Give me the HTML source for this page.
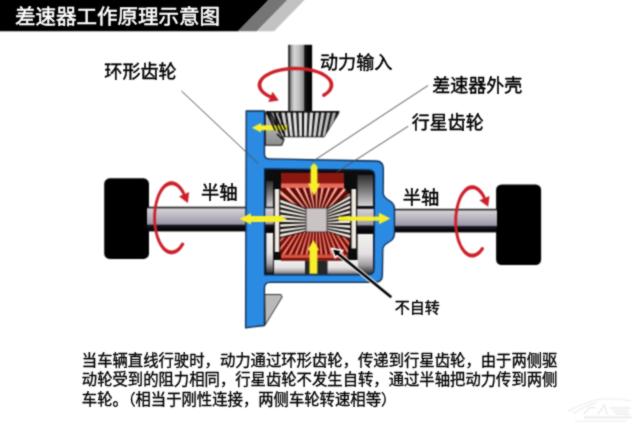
<!DOCTYPE html>
<html lang="zh"><head><meta charset="utf-8"><title>差速器工作原理示意图</title>
<style>
html,body{margin:0;padding:0;background:#fff}
body{width:640px;height:427px;overflow:hidden;position:relative;font-family:"Liberation Sans","Noto Sans CJK SC",sans-serif}
svg{display:block;position:absolute;left:0;top:0}
svg text{font-family:"Liberation Sans","Noto Sans CJK SC",sans-serif}
.t{position:absolute;white-space:nowrap;color:transparent;margin:0;padding:0;z-index:2;pointer-events:none}
</style></head><body>
<svg width="640" height="427" viewBox="0 0 640 427">
<g filter="url(#soft)">
<defs>
<linearGradient id="gShH" x1="0" y1="0" x2="0" y2="1">
<stop offset="0" stop-color="#1a1a1a"/><stop offset=".06" stop-color="#2a2a2a"/><stop offset=".08" stop-color="#d6d2d6"/>
<stop offset=".45" stop-color="#b4b0bc"/><stop offset=".70" stop-color="#9a98a8"/><stop offset=".76" stop-color="#15151d"/><stop offset="1" stop-color="#000"/>
</linearGradient>
<linearGradient id="gShV" x1="0" y1="0" x2="1" y2="0">
<stop offset="0" stop-color="#1c1c1c"/><stop offset=".08" stop-color="#333"/><stop offset=".1" stop-color="#8e8e8e"/>
<stop offset=".25" stop-color="#d6d6d6"/><stop offset=".45" stop-color="#c0c0c0"/><stop offset=".66" stop-color="#8a8a8a"/><stop offset=".69" stop-color="#111"/><stop offset="1" stop-color="#000"/>
</linearGradient>
<linearGradient id="gGreyV" x1="0" y1="0" x2="0" y2="1">
<stop offset="0" stop-color="#2c2c2c"/><stop offset=".5" stop-color="#7c7a7c"/><stop offset="1" stop-color="#d4d2d4"/>
</linearGradient>
<linearGradient id="gGreyV2" x1="0" y1="0" x2="0" y2="1">
<stop offset="0" stop-color="#f2f0f0"/><stop offset=".5" stop-color="#e4e0e2"/><stop offset=".78" stop-color="#a09ca0"/><stop offset="1" stop-color="#2a2a2a"/>
</linearGradient>
<linearGradient id="gRing" x1="0" y1="0" x2="0" y2="1">
<stop offset="0" stop-color="#c8c8c8"/><stop offset="1" stop-color="#8c8c8c"/>
</linearGradient>
<linearGradient id="gTeeth" gradientUnits="userSpaceOnUse" x1="266" y1="0" x2="339" y2="0"><stop offset="0" stop-color="#8e8e8e"/><stop offset=".3" stop-color="#dedede"/><stop offset=".6" stop-color="#e2e2e2"/><stop offset="1" stop-color="#9a9a9a"/></linearGradient>
<clipPath id="cpPT"><polygon points="280.3,188 344,188 350.2,194.5 327,208.6 306,208.6 280.3,198.5"/></clipPath>
<clipPath id="cpPB"><polygon points="306,231.4 327,231.4 350.2,239 347.5,254.8 280.5,254.8 280.3,238"/></clipPath>
<clipPath id="cpPinion"><polygon points="266.6,112.6 338.8,112.6 338.4,114 324,136.6 279.4,136.6 266.8,114"/></clipPath>
<filter id="softT" filterUnits="userSpaceOnUse" x="0" y="0" width="640" height="427" color-interpolation-filters="sRGB"><feConvolveMatrix order="3" kernelMatrix="1 2 1 2 13 2 1 2 1" divisor="25" edgeMode="duplicate" preserveAlpha="false"/></filter>
<filter id="soft" filterUnits="userSpaceOnUse" x="0" y="0" width="640" height="427" color-interpolation-filters="sRGB"><feConvolveMatrix order="3" kernelMatrix="1 2 1 2 6 2 1 2 1" divisor="18" edgeMode="duplicate" preserveAlpha="true"/></filter>
</defs>
<rect width="640" height="427" fill="#fff"/>
<!-- header band -->
<g id="header">
<polygon points="0,0 268.5,0 238,31.3 0,31.3" fill="#000"/>
<polygon points="268.5,0 287.3,0 256.8,31.3 238,31.3" fill="#757575"/>
<polygon points="287.3,0 304.5,0 274,31.3 256.8,31.3" fill="#c2c2c2"/>
</g>
<g id="diagram">
<!-- wheels -->
<rect x="104.2" y="178.3" width="44.8" height="80.6" rx="5.5" fill="#000"/>
<rect x="496.1" y="184.5" width="45" height="80.6" rx="5.5" fill="#000"/>
<!-- half shafts -->
<rect x="147" y="206.7" width="100" height="24.7" fill="url(#gShH)"/>
<rect x="392" y="208.8" width="105" height="23.6" fill="url(#gShH)"/>
<!-- input shaft -->
<rect x="288.2" y="44.8" width="23.9" height="67.2" fill="url(#gShV)"/>
<!-- pinion gear -->
<g id="pinion">
<polygon points="265.5,111 339.6,111 339,113.8 324.2,137.3 279,137.3 266,113.8" fill="#0c0c0c"/>
<path d="M264.1 112.2L267.6 112.2L274.7 136.7L271.8 136.7ZM269.8 112.2L273.3 112.2L279.3 136.7L276.4 136.7ZM275.5 112.2L279.1 112.2L283.8 136.7L281.0 136.7ZM281.2 112.2L284.8 112.2L288.4 136.7L285.6 136.7ZM286.9 112.2L290.5 112.2L293.0 136.7L290.1 136.7ZM292.7 112.2L296.2 112.2L297.6 136.7L294.7 136.7ZM298.4 112.2L301.9 112.2L302.1 136.7L299.3 136.7ZM304.1 112.2L307.6 112.2L306.7 136.7L303.9 136.7ZM309.8 112.2L313.3 112.2L311.3 136.7L308.4 136.7ZM315.5 112.2L319.1 112.2L315.9 136.7L313.0 136.7ZM321.2 112.2L324.8 112.2L320.4 136.7L317.6 136.7ZM326.9 112.2L330.5 112.2L325.0 136.7L322.2 136.7ZM332.7 112.2L336.2 112.2L329.6 136.7L326.7 136.7ZM338.4 112.2L341.9 112.2L334.2 136.7L331.3 136.7Z" fill="url(#gTeeth)" clip-path="url(#cpPinion)"/>
</g>
<!-- housing interior -->
<g id="interior">
<rect x="264" y="167" width="110" height="109" fill="#0c0c0c"/>
<!-- carrier walls -->
<rect x="266.3" y="181" width="6.8" height="26" fill="url(#gGreyV)"/>
<rect x="266.3" y="233" width="6.8" height="40" fill="url(#gGreyV2)"/>
<rect x="357.5" y="175" width="15.5" height="31" fill="url(#gGreyV)"/>
<rect x="357.5" y="234" width="15.5" height="40" fill="url(#gGreyV2)"/>
<!-- shafts inside -->
<rect x="264" y="206.7" width="12" height="24.3" fill="url(#gShH)"/>
<rect x="355" y="207.5" width="40" height="24.6" fill="url(#gShH)"/>
<!-- bottom carrier -->
<rect x="274" y="260" width="84" height="15.5" fill="url(#gGreyV2)"/>
<rect x="305" y="260.5" width="22.5" height="14.5" fill="#262626"/>
<!-- side gear discs -->
<rect x="274.2" y="188.5" width="5.6" height="64" fill="#efe9e2" stroke="#000" stroke-width="1"/>
<rect x="351" y="188.5" width="5.6" height="60.5" fill="#efe9e2" stroke="#000" stroke-width="1"/>
<!-- planet gear top -->
<rect x="281" y="172.8" width="63" height="11" fill="#8a1810"/>
<rect x="281" y="183.4" width="63" height="4.6" fill="#e8685a"/>
<polygon points="280.3,188 344,188 350.2,194.5 327,208.6 306,208.6 280.3,198.5" fill="#5e0a05"/>
<path d="M316.5 222.0L268.7 207.2L269.8 204.2ZM316.5 222.0L272.1 199.0L273.7 196.2ZM316.5 222.0L276.8 191.6L278.9 189.1ZM316.5 222.0L282.8 185.1L285.2 183.0ZM316.5 222.0L289.8 179.7L292.6 178.1ZM316.5 222.0L297.7 175.7L300.7 174.6ZM316.5 222.0L306.1 173.1L309.3 172.5ZM316.5 222.0L314.9 172.0L318.1 172.0ZM316.5 222.0L323.7 172.5L326.9 173.1ZM316.5 222.0L332.3 174.6L335.3 175.7ZM316.5 222.0L340.4 178.1L343.2 179.7ZM316.5 222.0L347.8 183.0L350.2 185.1ZM316.5 222.0L354.1 189.1L356.2 191.6ZM316.5 222.0L359.3 196.2L360.9 199.0ZM316.5 222.0L363.2 204.2L364.3 207.2Z" fill="#ffb0a0" clip-path="url(#cpPT)"/>
<!-- planet gear bottom -->
<polygon points="306,231.4 327,231.4 350.2,239 347.5,254.8 280.5,254.8 280.3,238" fill="#760e08"/>
<path d="M316.5 203.0L370.3 247.8L368.7 249.6ZM316.5 203.0L365.8 252.7L364.1 254.4ZM316.5 203.0L360.8 257.2L358.9 258.7ZM316.5 203.0L355.5 261.2L353.4 262.5ZM316.5 203.0L349.7 264.6L347.6 265.7ZM316.5 203.0L343.7 267.5L341.5 268.4ZM316.5 203.0L337.4 269.8L335.1 270.5ZM316.5 203.0L331.0 271.5L328.6 271.9ZM316.5 203.0L324.4 272.6L322.0 272.8ZM316.5 203.0L317.7 273.0L315.3 273.0ZM316.5 203.0L311.0 272.8L308.6 272.6ZM316.5 203.0L304.4 271.9L302.0 271.5ZM316.5 203.0L297.9 270.5L295.6 269.8ZM316.5 203.0L291.5 268.4L289.3 267.5ZM316.5 203.0L285.4 265.7L283.3 264.6ZM316.5 203.0L279.6 262.5L277.5 261.2ZM316.5 203.0L274.1 258.7L272.2 257.2ZM316.5 203.0L268.9 254.4L267.2 252.7ZM316.5 203.0L264.3 249.6L262.7 247.8Z" fill="#f68c7c" clip-path="url(#cpPB)"/>
<rect x="281" y="254.6" width="66.5" height="3.8" fill="#d8503e"/>
<rect x="281" y="258.2" width="66.5" height="2.6" fill="#7a140c"/>
<!-- side gear teeth -->
<polygon points="280.3,198.5 306,208.6 306,231.4 280.3,238" fill="#0a0a0a"/>
<path d="M280.3 199.6L280.3 202.4L306.0 211.0L306.0 209.4ZM280.3 204.5L280.3 207.3L306.0 213.8L306.0 212.2ZM280.3 209.5L280.3 212.2L306.0 216.7L306.0 215.1ZM280.3 214.4L280.3 217.2L306.0 219.5L306.0 217.9ZM280.3 219.3L280.3 222.1L306.0 222.3L306.0 220.7ZM280.3 224.3L280.3 227.0L306.0 225.1L306.0 223.5ZM280.3 229.2L280.3 232.0L306.0 228.0L306.0 226.4ZM280.3 234.1L280.3 236.9L306.0 230.8L306.0 229.2Z" fill="#f4ece4"/>
<polygon points="350.2,194.5 327,208.6 327,231.4 350.2,239" fill="#0a0a0a"/>
<path d="M350.2 195.6L350.2 198.4L327.0 210.8L327.0 209.4ZM350.2 200.5L350.2 203.3L327.0 213.3L327.0 211.9ZM350.2 205.5L350.2 208.2L327.0 215.8L327.0 214.4ZM350.2 210.4L350.2 213.2L327.0 218.3L327.0 216.9ZM350.2 215.4L350.2 218.1L327.0 220.8L327.0 219.4ZM350.2 220.3L350.2 223.1L327.0 223.3L327.0 221.9ZM350.2 225.3L350.2 228.0L327.0 225.8L327.0 224.4ZM350.2 230.2L350.2 233.0L327.0 228.3L327.0 226.9ZM350.2 235.1L350.2 237.9L327.0 230.8L327.0 229.4Z" fill="#f4ece4"/>
<!-- center block -->
<rect x="306" y="208" width="21" height="24" fill="#c9c3c3" stroke="#3a3030" stroke-width="0.8"/>
</g>
<!-- blue housing -->
<path id="housing" fill-rule="evenodd" fill="#2b8ae2" stroke="#0b2a50" stroke-width="1.3" stroke-linejoin="round" d="M246.2,111H264.5V154.2Q264.5,158.9 269.6,158.9L376,161Q383.4,161.1 383.4,169L383.2,193C383.2,201 394.5,199 394.5,209V233.5C394.5,243.5 382.8,241.5 382.8,249.5L382.4,275Q382.4,282.4 374.7,282.4H270Q264.5,282.4 264.5,288V325.5L245.6,327.8ZM264.6,168.8V274.8H368Q374,274.8 374,268.8L374.6,176Q374.6,170 368.6,170Z"/>
<!-- leader lines -->
<g stroke="#505050" stroke-width="1.0" fill="none">
<line x1="181.5" y1="91" x2="258.3" y2="163.5"/>
<line x1="428" y1="85.5" x2="312.5" y2="161.5"/>
<line x1="408.3" y1="126.2" x2="337" y2="172"/>
</g>
<!-- ring gear (grey) -->
<polygon points="265.3,113 268,114 284,139.5 281.7,145.3 265.3,145.3" fill="url(#gRing)" stroke="#1a1a1a" stroke-width="1.1"/>
<polygon points="264.8,294.5 281,294.5 282.2,297 265.2,325" fill="#b9b9b9" stroke="#222" stroke-width="0.9"/>
<!-- yellow arrows -->
<g fill="#f6ef2a">
<polygon points="251.8,127.7 261,122.9 261,125.2 287.2,125.2 287.2,130.3 261,130.3 261,132.5"/>
<polygon points="314,163 317.4,166.5 317.4,183.5 320,183.5 314,195.5 308,183.5 310.6,183.5 310.6,166.5"/>
<polygon points="239.5,218.8 251,213.2 251,216 280,216 287,219 280,222 251,222 251,224.6"/>
<polygon points="338.5,216.4 379,216.4 379,212.8 390.5,218.5 379,224.2 379,220.8 338.5,220.8"/>
<polygon points="313.4,240 319.2,250.3 317.4,250.3 317.4,273.8 309.5,273.8 309.5,250.3 307.6,250.3"/>
</g>
<!-- ring gear teeth (black hatch) -->
<g stroke="#0a0a0a" stroke-width="1.6" stroke-linecap="butt">
<line x1="266.9" y1="113" x2="275.3" y2="130.5"/><line x1="270.6" y1="113" x2="280.6" y2="134"/><line x1="274.6" y1="113.3" x2="283.8" y2="134"/><line x1="278.6" y1="113.3" x2="285.5" y2="130"/>
<line x1="277" y1="134" x2="283" y2="139.5" stroke-width="1.6"/>
</g>
<!-- black pointer arrow -->
<g>
<line x1="391.3" y1="297.3" x2="336.4" y2="252.4" stroke="#fff" stroke-width="4.6"/>
<polygon points="331.7,248.5 342.6,250.6 335.2,257.6" fill="#000" stroke="#fff" stroke-width="1.7"/>
<line x1="391.3" y1="297.3" x2="337.4" y2="253.2" stroke="#000" stroke-width="2.6"/>
</g>
<!-- red rotation arrows -->
<path d="M325.3 96.2L327.4 94.8L329.2 93.3L330.7 91.7L331.9 90.0L332.7 88.3L333.2 86.6L333.3 84.8L333.1 83.0L332.6 81.3L331.7 79.6L330.4 77.9L328.8 76.4L327.0 74.9L324.8 73.4L322.4 72.1L319.7 71.0L316.7 69.9L313.6 69.0L310.4 68.2L306.9 67.6L303.4 67.2L299.8 66.9L296.2 66.8L292.5 66.8L288.9 67.0L285.4 67.4L281.9 68.0L278.6 68.7L275.4 69.5L272.4 70.5L269.6 71.7L267.1 72.9L264.8 74.3L262.8 75.8L261.1 77.4L259.8 79.0L258.7 80.7L258.0 82.4L257.7 84.1L257.7 85.9L258.1 87.7L258.8 89.4L259.8 91.1L261.2 92.7L262.9 94.2L264.9 95.7L267.1 97.1L269.7 98.3L272.2 95.8L269.9 94.8L267.9 93.7L266.1 92.5L264.5 91.2L263.3 89.9L262.3 88.5L261.7 87.1L261.4 85.7L261.4 84.3L261.7 82.9L262.3 81.5L263.3 80.1L264.5 78.8L266.0 77.6L267.8 76.4L269.9 75.3L272.1 74.2L274.7 73.3L277.4 72.5L280.2 71.8L283.2 71.2L286.3 70.8L289.6 70.5L292.8 70.3L296.1 70.3L299.4 70.3L302.6 70.6L305.8 70.9L308.9 71.4L311.9 72.1L314.7 72.8L317.3 73.6L319.7 74.6L321.9 75.7L323.9 76.8L325.6 78.0L327.0 79.3L328.1 80.6L328.9 82.0L329.5 83.4L329.6 84.8L329.5 86.3L329.1 87.7L328.3 89.0L327.3 90.4L325.9 91.7L324.3 92.9L322.4 94.1Z" fill="#cc1f2a"/><circle cx="323.9" cy="95.2" r="1.8" fill="#cc1f2a"/><polygon points="278.8,100.4 268.3,101.9 272.6,91.8" fill="#cc1f2a"/>
<path d="M183.4 245.8L182.0 248.0L180.5 249.8L178.9 251.4L177.2 252.6L175.5 253.5L173.7 254.1L171.9 254.3L170.1 254.2L168.3 253.8L166.6 253.0L164.9 251.8L163.2 250.4L161.7 248.6L160.2 246.5L158.9 244.2L157.6 241.6L156.5 238.8L155.6 235.8L154.8 232.6L154.1 229.3L153.7 225.9L153.3 222.4L153.2 218.8L153.2 215.3L153.5 211.7L153.8 208.2L154.4 204.9L155.1 201.6L156.0 198.5L157.0 195.5L158.2 192.8L159.4 190.4L160.8 188.1L162.4 186.2L163.9 184.6L165.6 183.2L167.3 182.2L169.1 181.6L170.9 181.3L172.7 181.3L174.5 181.7L176.2 182.4L177.9 183.5L179.6 184.9L181.1 186.6L182.6 188.5L184.0 190.8L185.3 193.3L183.2 196.0L182.1 193.7L181.0 191.7L179.7 189.9L178.4 188.4L177.0 187.1L175.5 186.2L174.0 185.5L172.5 185.2L171.0 185.2L169.5 185.5L168.0 186.0L166.5 186.9L165.1 188.1L163.8 189.6L162.5 191.3L161.3 193.3L160.2 195.5L159.2 197.9L158.4 200.5L157.6 203.3L157.0 206.2L156.5 209.3L156.2 212.4L156.0 215.5L156.0 218.7L156.1 221.9L156.4 225.0L156.8 228.1L157.3 231.0L158.0 233.9L158.8 236.6L159.8 239.1L160.8 241.4L162.0 243.5L163.2 245.3L164.5 246.9L165.9 248.2L167.3 249.2L168.8 249.9L170.3 250.3L171.8 250.4L173.4 250.2L174.9 249.7L176.3 248.9L177.8 247.8L179.1 246.4L180.4 244.7L181.6 242.8Z" fill="#cc1f2a"/><circle cx="182.5" cy="244.3" r="1.7" fill="#cc1f2a"/><polygon points="187.9,202.9 179.0,196.4 189.1,192.0" fill="#cc1f2a"/>
<path d="M483.2 250.3L481.7 252.2L480.2 253.9L478.6 255.3L476.9 256.3L475.2 257.1L473.5 257.5L471.8 257.5L470.0 257.3L468.3 256.7L466.7 255.7L465.0 254.5L463.5 252.9L462.0 251.1L460.6 249.0L459.4 246.6L458.2 244.0L457.2 241.2L456.3 238.2L455.6 235.0L455.0 231.7L454.6 228.3L454.3 224.9L454.3 221.4L454.3 217.9L454.6 214.5L455.0 211.1L455.6 207.8L456.3 204.7L457.2 201.7L458.2 198.8L459.3 196.2L460.6 193.8L462.0 191.7L463.5 189.9L465.0 188.3L466.6 187.1L468.3 186.1L470.0 185.5L471.8 185.3L473.5 185.3L475.2 185.7L476.9 186.5L478.6 187.5L480.2 188.9L481.7 190.6L483.2 192.5L484.5 194.7L485.7 197.2L483.6 199.8L482.5 197.6L481.4 195.6L480.2 193.9L478.9 192.4L477.6 191.2L476.2 190.2L474.8 189.6L473.3 189.2L471.9 189.2L470.4 189.4L469.0 189.9L467.6 190.8L466.2 191.9L464.9 193.3L463.7 194.9L462.5 196.8L461.4 198.9L460.5 201.3L459.6 203.8L458.9 206.5L458.3 209.3L457.8 212.2L457.4 215.2L457.2 218.3L457.2 221.4L457.2 224.5L457.4 227.6L457.8 230.6L458.3 233.5L458.9 236.4L459.6 239.0L460.5 241.5L461.4 243.9L462.5 246.0L463.7 247.9L464.9 249.5L466.2 250.9L467.6 252.0L469.0 252.9L470.4 253.4L471.9 253.6L473.3 253.6L474.8 253.2L476.2 252.6L477.6 251.6L478.9 250.4L480.2 248.9L481.4 247.2Z" fill="#cc1f2a"/><circle cx="482.3" cy="248.7" r="1.7" fill="#cc1f2a"/><polygon points="488.2,206.8 479.4,200.3 489.5,195.9" fill="#cc1f2a"/>
</g>
<!-- watermark -->
<g id="wm" fill="none" stroke="#ebebeb" stroke-width="1.1" stroke-linecap="round">
<path d="M568.5,411C574,408 584,403.5 596,399.8C606,398 620,399 631,401"/>
<path d="M573,413.5C580,409 588,405 597,402.5"/>
<path d="M584,413.5L590,407.5H595M598,414L604.5,405L607,414M611,408H630M613,411H628M616,414H629" stroke-width="1.3"/>
<path d="M585,417.3H631" stroke-width="2.2" stroke-dasharray="3.5 1.5" stroke="#ededed"/>
<path d="M575,421.3H626" stroke-width="0.9"/>
</g>

</g>
<g id="labels">
<g filter="url(#softT)"><text x="15" y="24.2" font-size="20.5" fill="#fff" stroke="#fff" stroke-width="0.5" stroke-linejoin="round">差速器工作原理示意图</text></g>
<g filter="url(#softT)"><text x="104.3" y="78.1" font-size="18.1" fill="#000" stroke="#000" stroke-width="0.45" stroke-linejoin="round">环形齿轮</text></g>
<g filter="url(#softT)"><text x="320" y="69.1" font-size="18.1" fill="#000" stroke="#000" stroke-width="0.45" stroke-linejoin="round">动力输入</text></g>
<g filter="url(#softT)"><text x="432.3" y="91.6" font-size="18" fill="#000" stroke="#000" stroke-width="0.45" stroke-linejoin="round">差速器外壳</text></g>
<g filter="url(#softT)"><text x="411.8" y="128.6" font-size="18" fill="#000" stroke="#000" stroke-width="0.45" stroke-linejoin="round">行星齿轮</text></g>
<g filter="url(#softT)"><text x="200.9" y="199.2" font-size="18.3" fill="#000" stroke="#000" stroke-width="0.45" stroke-linejoin="round">半轴</text></g>
<g filter="url(#softT)"><text x="402.8" y="203.9" font-size="18.3" fill="#000" stroke="#000" stroke-width="0.45" stroke-linejoin="round">半轴</text></g>
<g filter="url(#softT)"><text x="394.8" y="312.6" font-size="15" fill="#000" stroke="#000" stroke-width="0.4" stroke-linejoin="round">不自转</text></g>
<g filter="url(#softT)"><text x="81.8" y="365.5" font-size="15.35" fill="#000" stroke="#000" stroke-width="0.35" stroke-linejoin="round">当车辆直线行驶时，动力通过环形齿轮，传递到行星齿轮，由于两侧驱</text></g>
<g filter="url(#softT)"><text x="81.8" y="385.2" font-size="15.35" fill="#000" stroke="#000" stroke-width="0.35" stroke-linejoin="round">动轮受到的阻力相同，行星齿轮不发生自转，通过半轴把动力传到两侧</text></g>
<g filter="url(#softT)"><text x="81.8" y="404.8" font-size="15.35" fill="#000" stroke="#000" stroke-width="0.35" stroke-linejoin="round">车轮。（相当于刚性连接，两侧车轮转速相等）</text></g>
</g>
</svg>
<div class="t" style="left:15.0px;top:6.2px;font-size:20.50px;line-height:20.50px">差速器工作原理示意图</div>
<div class="t" style="left:104.3px;top:62.2px;font-size:18.10px;line-height:18.10px">环形齿轮</div>
<div class="t" style="left:320.0px;top:53.2px;font-size:18.10px;line-height:18.10px">动力输入</div>
<div class="t" style="left:432.3px;top:75.8px;font-size:18.00px;line-height:18.00px">差速器外壳</div>
<div class="t" style="left:411.8px;top:112.8px;font-size:18.00px;line-height:18.00px">行星齿轮</div>
<div class="t" style="left:200.9px;top:183.1px;font-size:18.30px;line-height:18.30px">半轴</div>
<div class="t" style="left:402.8px;top:187.8px;font-size:18.30px;line-height:18.30px">半轴</div>
<div class="t" style="left:394.8px;top:299.4px;font-size:15.00px;line-height:15.00px">不自转</div>
<div class="t" style="left:81.8px;top:352.0px;font-size:15.35px;line-height:15.35px">当车辆直线行驶时，动力通过环形齿轮，传递到行星齿轮，由于两侧驱</div>
<div class="t" style="left:81.8px;top:371.7px;font-size:15.35px;line-height:15.35px">动轮受到的阻力相同，行星齿轮不发生自转，通过半轴把动力传到两侧</div>
<div class="t" style="left:81.8px;top:391.3px;font-size:15.35px;line-height:15.35px">车轮。（相当于刚性连接，两侧车轮转速相等）</div>
</body></html>
